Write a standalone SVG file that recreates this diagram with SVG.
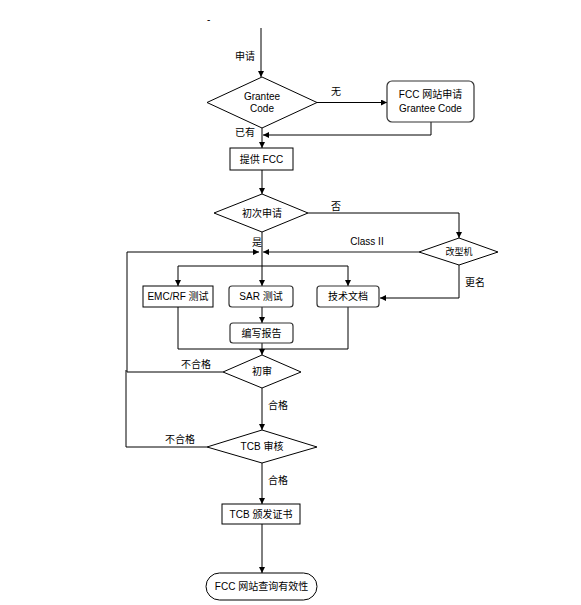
<svg xmlns="http://www.w3.org/2000/svg" width="581" height="605" viewBox="0 0 581 605">
<defs>
<marker id="ah" viewBox="0 0 10 10" refX="10" refY="5" markerWidth="6" markerHeight="6" markerUnits="userSpaceOnUse" orient="auto">
<path d="M0,0 L10,5 L0,10 z" fill="#000"/>
</marker>
<style>
.s{fill:#fff;stroke:#000;stroke-width:1}
.g{fill:#fff;stroke:#333;stroke-width:1.2}
.c{fill:none;stroke:#000;stroke-width:1}
.t{font-family:"Liberation Sans","Noto Sans CJK SC",sans-serif;font-size:10px;fill:#000}
.m{text-anchor:middle}
</style>
</defs>
<rect width="581" height="605" fill="#fff"/>
<g id="connectors">
<path class="c" d="M261,28 V77" marker-end="url(#ah)"/>
<path class="c" d="M317,102.5 H387" marker-end="url(#ah)"/>
<path class="c" d="M431,122 V135 H263" marker-end="url(#ah)"/>
<path class="c" d="M262,128 V148" marker-end="url(#ah)"/>
<path class="c" d="M262,170 V194" marker-end="url(#ah)"/>
<path class="c" d="M308,213 H459 V238" marker-end="url(#ah)"/>
<path class="c" d="M419,252 H263" stroke="#666" style="stroke:#666;stroke-width:1.5" marker-end="url(#ah)"/>
<path class="c" d="M262,232 V286" marker-end="url(#ah)"/>
<path class="c" d="M178,266 H348"/>
<path class="c" d="M178,266 V286" marker-end="url(#ah)"/>
<path class="c" d="M348,266 V286" marker-end="url(#ah)"/>
<path class="c" d="M459,265 V298 H380" marker-end="url(#ah)"/>
<path class="c" d="M262,307 V323" marker-end="url(#ah)"/>
<path class="c" d="M178,307 V349 H348 V307"/>
<path class="c" d="M262,343 V355" marker-end="url(#ah)"/>
<path class="c" d="M223,372 H127 V252 H259" marker-end="url(#ah)"/>
<path class="c" d="M262,388 V430" marker-end="url(#ah)"/>
<path class="c" d="M207,447 H126 V370"/>
<path class="c" d="M262,463 V504" marker-end="url(#ah)"/>
<path class="c" d="M262,524 V573" marker-end="url(#ah)"/>
</g>
<g id="labels">
<text class="t" x="207" y="23">-</text>
<text class="t" x="235" y="60">申请</text>
<text class="t" x="331" y="95">无</text>
<text class="t" x="235" y="136">已有</text>
<text class="t" x="331" y="210">否</text>
<text class="t" x="252" y="246">是</text>
<text class="t m" x="367" y="245">Class II</text>
<text class="t" x="465" y="286">更名</text>
<text class="t" x="181" y="368">不合格</text>
<text class="t" x="268" y="409">合格</text>
<text class="t" x="165" y="443">不合格</text>
<text class="t" x="268" y="484">合格</text>
</g>
<g id="n-grantee">
<polygon class="s" points="262,77 317,102.5 262,128 207,102.5"/>
<text class="t m" x="262" y="100">Grantee</text>
<text class="t m" x="262" y="112">Code</text>
</g>
<g id="n-fccapply">
<rect class="g" x="387" y="81" width="87" height="41" rx="5"/>
<text class="t m" x="430.5" y="98">FCC 网站申请</text>
<text class="t m" x="430.5" y="112">Grantee Code</text>
</g>
<g id="n-provide">
<rect class="s" x="230" y="148" width="63" height="22"/>
<text class="t m" x="261.5" y="163">提供 FCC</text>
</g>
<g id="n-first">
<polygon class="s" points="262,194 308,213 262,232 214,213"/>
<text class="t m" x="262" y="217">初次申请</text>
</g>
<g id="n-modify">
<polygon class="s" points="459,238 498,252 459,265 419,252"/>
<text class="t m" x="459" y="255" style="font-size:9px">改型机</text>
</g>
<g id="n-emc">
<rect class="s" x="143" y="286" width="70" height="21"/>
<text class="t m" x="178" y="300">EMC/RF 测试</text>
</g>
<g id="n-sar">
<rect class="g" x="229" y="286" width="64" height="21" rx="3"/>
<text class="t m" x="261" y="300">SAR 测试</text>
</g>
<g id="n-tech">
<rect class="g" x="317" y="286" width="62" height="21" rx="3"/>
<text class="t m" x="348" y="300">技术文档</text>
</g>
<g id="n-report">
<rect class="g" x="230" y="323" width="63" height="20" rx="3"/>
<text class="t m" x="261.5" y="337">编写报告</text>
</g>
<g id="n-chushen">
<polygon class="s" points="262,355 301,372 262,388 223,372"/>
<text class="t m" x="262" y="375">初审</text>
</g>
<g id="n-tcb">
<polygon class="s" points="262,430 317,447 262,463 207,447"/>
<text class="t m" x="262" y="450">TCB 审核</text>
</g>
<g id="n-cert">
<rect class="s" x="222" y="504" width="78" height="20"/>
<text class="t m" x="261" y="518">TCB 颁发证书</text>
</g>
<g id="n-query">
<rect class="s" x="206" y="573" width="111" height="27" rx="13.5"/>
<text class="t m" x="261.5" y="590">FCC 网站查询有效性</text>
</g>
</svg>
